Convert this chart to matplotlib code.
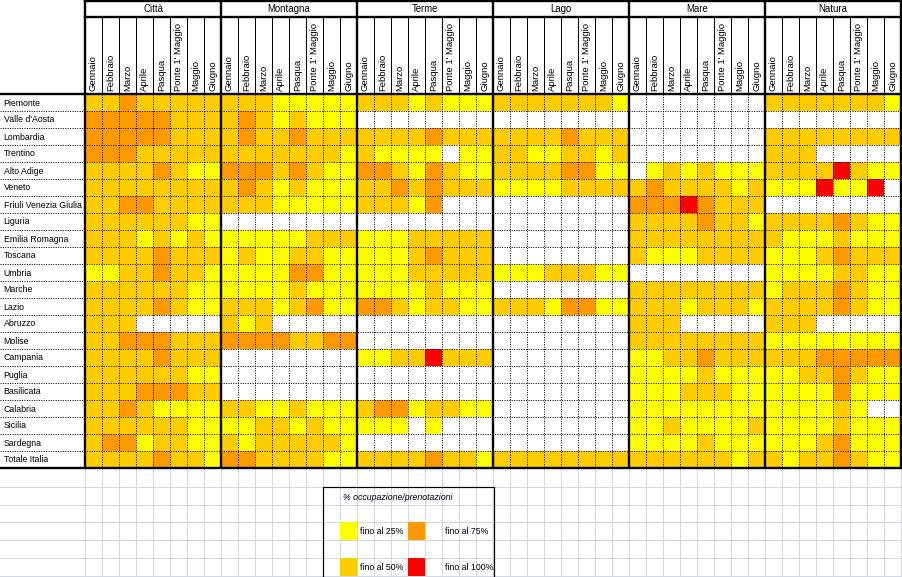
import matplotlib
matplotlib.use("Agg")
import matplotlib.pyplot as plt
import numpy as np
from matplotlib.colors import ListedColormap, BoundaryNorm
from matplotlib.patches import Rectangle

plt.rcParams['font.family'] = ['Liberation Sans', 'DejaVu Sans']

regions = ["Piemonte", "Valle d'Aosta", "Lombardia", "Trentino", "Alto Adige", "Veneto",
           "Friuli Venezia Giulia", "Liguria", "Emilia Romagna", "Toscana", "Umbria",
           "Marche", "Lazio", "Abruzzo", "Molise", "Campania", "Puglia", "Basilicata",
           "Calabria", "Sicilia", "Sardegna", "Totale Italia"]
groups = ["Città", "Montagna", "Terme", "Lago", "Mare", "Natura"]
months = ["Gennaio", "Febbraio", "Marzo", "Aprile", "Pasqua", "Ponte 1' Maggio", "Maggio", "Giugno"]

# 0 = nessun dato, 1 = fino al 25%, 2 = fino al 50%, 3 = fino al 75%, 4 = fino al 100%
citta = [
    [2, 2, 3, 2, 2, 2, 2, 2],
    [3, 3, 3, 3, 3, 2, 2, 2],
    [3, 3, 3, 3, 3, 2, 2, 2],
    [3, 3, 3, 2, 2, 2, 2, 2],
    [2, 2, 2, 2, 3, 2, 1, 1],
    [2, 2, 2, 2, 2, 2, 2, 2],
    [2, 2, 3, 3, 2, 2, 2, 2],
    [2, 2, 2, 2, 2, 2, 1, 1],
    [2, 2, 2, 1, 2, 1, 2, 1],
    [2, 2, 2, 2, 3, 2, 2, 2],
    [1, 1, 2, 2, 3, 2, 2, 1],
    [2, 2, 2, 2, 2, 2, 1, 1],
    [2, 2, 2, 2, 3, 2, 1, 1],
    [2, 2, 2, 0, 0, 0, 0, 0],
    [2, 2, 3, 3, 3, 2, 2, 2],
    [2, 2, 2, 2, 3, 2, 2, 2],
    [2, 2, 2, 2, 2, 2, 1, 1],
    [2, 2, 2, 3, 3, 3, 2, 2],
    [2, 2, 3, 2, 1, 1, 1, 1],
    [2, 2, 2, 2, 2, 2, 1, 1],
    [2, 3, 3, 1, 2, 2, 1, 1],
    [2, 2, 2, 2, 3, 2, 2, 1],
]
montagna = [
    [2, 2, 2, 1, 1, 1, 1, 1],
    [2, 3, 2, 1, 2, 1, 1, 1],
    [2, 3, 2, 2, 3, 2, 2, 2],
    [2, 2, 2, 2, 2, 2, 2, 1],
    [3, 3, 3, 2, 3, 2, 1, 1],
    [2, 3, 2, 1, 2, 1, 1, 1],
    [2, 2, 2, 1, 1, 1, 1, 1],
    [0, 0, 0, 0, 0, 0, 0, 0],
    [1, 1, 1, 1, 1, 2, 2, 2],
    [1, 2, 1, 1, 2, 2, 1, 1],
    [1, 1, 1, 1, 3, 3, 1, 1],
    [1, 1, 1, 1, 2, 1, 1, 1],
    [2, 2, 2, 1, 2, 3, 1, 1],
    [2, 1, 2, 0, 0, 0, 0, 0],
    [3, 3, 3, 3, 2, 2, 3, 3],
    [0, 0, 0, 0, 0, 0, 0, 0],
    [0, 0, 0, 0, 0, 0, 0, 0],
    [0, 0, 0, 0, 0, 0, 0, 0],
    [2, 2, 1, 1, 2, 1, 1, 1],
    [1, 1, 2, 2, 1, 2, 1, 1],
    [2, 1, 2, 2, 2, 2, 2, 1],
    [3, 3, 2, 2, 2, 2, 1, 1],
]
terme = [
    [2, 2, 2, 1, 2, 1, 1, 1],
    [0, 0, 0, 0, 0, 0, 0, 0],
    [2, 2, 2, 2, 3, 2, 2, 2],
    [2, 1, 1, 1, 1, 0, 1, 1],
    [3, 3, 2, 1, 3, 2, 1, 1],
    [2, 2, 3, 2, 3, 2, 2, 2],
    [2, 2, 2, 1, 3, 0, 0, 0],
    [0, 0, 0, 0, 0, 0, 0, 0],
    [1, 1, 1, 2, 2, 2, 2, 2],
    [1, 1, 1, 2, 3, 2, 2, 2],
    [1, 1, 1, 2, 2, 2, 2, 2],
    [1, 1, 1, 1, 2, 1, 1, 1],
    [3, 3, 2, 1, 2, 2, 1, 1],
    [0, 0, 0, 0, 0, 0, 0, 0],
    [0, 0, 0, 0, 0, 0, 0, 0],
    [1, 1, 2, 2, 4, 2, 2, 2],
    [0, 0, 0, 0, 0, 0, 0, 0],
    [0, 0, 0, 0, 0, 0, 0, 0],
    [2, 3, 3, 1, 2, 2, 1, 1],
    [1, 1, 1, 0, 1, 0, 0, 0],
    [0, 0, 0, 0, 0, 0, 0, 0],
    [2, 2, 2, 2, 3, 2, 2, 1],
]
lago = [
    [2, 2, 2, 2, 2, 2, 2, 1],
    [0, 0, 0, 0, 0, 0, 0, 0],
    [2, 2, 2, 2, 3, 2, 2, 2],
    [2, 2, 1, 1, 2, 2, 1, 2],
    [2, 2, 2, 2, 3, 3, 1, 1],
    [1, 1, 1, 1, 2, 2, 2, 2],
    [0, 0, 0, 0, 0, 0, 0, 0],
    [0, 0, 0, 0, 0, 0, 0, 0],
    [0, 0, 0, 0, 0, 0, 0, 0],
    [0, 0, 0, 0, 0, 0, 0, 0],
    [1, 1, 1, 2, 2, 2, 1, 1],
    [0, 0, 0, 0, 0, 0, 0, 0],
    [2, 2, 2, 1, 3, 3, 1, 1],
    [0, 0, 0, 0, 0, 0, 0, 0],
    [0, 0, 0, 0, 0, 0, 0, 0],
    [0, 0, 0, 0, 0, 0, 0, 0],
    [0, 0, 0, 0, 0, 0, 0, 0],
    [0, 0, 0, 0, 0, 0, 0, 0],
    [0, 0, 0, 0, 0, 0, 0, 0],
    [0, 0, 0, 0, 0, 0, 0, 0],
    [0, 0, 0, 0, 0, 0, 0, 0],
    [2, 2, 2, 2, 2, 2, 2, 2],
]
mare = [
    [0, 0, 0, 0, 0, 0, 0, 0],
    [0, 0, 0, 0, 0, 0, 0, 0],
    [0, 0, 0, 0, 0, 0, 0, 0],
    [0, 0, 0, 0, 0, 0, 0, 0],
    [0, 1, 2, 1, 2, 1, 1, 1],
    [2, 3, 2, 2, 2, 2, 1, 2],
    [3, 3, 3, 4, 3, 2, 2, 2],
    [2, 2, 2, 2, 3, 2, 2, 1],
    [2, 2, 2, 2, 2, 2, 2, 2],
    [2, 1, 1, 1, 2, 2, 2, 2],
    [0, 0, 0, 0, 0, 0, 0, 0],
    [2, 2, 2, 2, 2, 2, 2, 2],
    [2, 2, 2, 1, 2, 2, 2, 1],
    [2, 2, 2, 0, 0, 0, 0, 0],
    [2, 2, 2, 2, 2, 2, 2, 2],
    [1, 1, 2, 2, 3, 2, 2, 2],
    [1, 1, 1, 1, 2, 1, 1, 1],
    [1, 1, 1, 2, 2, 2, 1, 1],
    [1, 1, 1, 1, 1, 1, 1, 1],
    [1, 1, 2, 1, 1, 1, 1, 2],
    [1, 1, 1, 1, 2, 1, 1, 1],
    [2, 2, 2, 2, 2, 2, 1, 2],
]
natura = [
    [2, 2, 2, 2, 2, 2, 2, 1],
    [0, 0, 0, 0, 0, 0, 0, 0],
    [2, 2, 2, 2, 2, 2, 2, 2],
    [2, 2, 2, 0, 0, 0, 0, 0],
    [2, 2, 2, 2, 4, 2, 1, 1],
    [1, 1, 1, 4, 1, 1, 4, 0],
    [0, 0, 0, 0, 0, 0, 0, 0],
    [2, 2, 2, 2, 3, 2, 1, 1],
    [2, 1, 1, 1, 2, 1, 1, 1],
    [1, 1, 1, 2, 3, 2, 2, 2],
    [1, 1, 1, 1, 2, 2, 1, 1],
    [1, 2, 2, 2, 3, 2, 1, 1],
    [2, 2, 2, 2, 3, 2, 1, 1],
    [2, 2, 2, 0, 0, 0, 0, 0],
    [1, 1, 1, 1, 1, 1, 1, 1],
    [2, 2, 2, 3, 3, 3, 3, 3],
    [1, 1, 2, 2, 3, 2, 1, 1],
    [1, 1, 1, 1, 3, 1, 1, 1],
    [1, 1, 1, 1, 2, 1, 0, 0],
    [1, 1, 1, 1, 2, 1, 1, 1],
    [1, 1, 1, 2, 3, 1, 1, 1],
    [2, 1, 2, 2, 3, 2, 1, 1],
]
legend_title = "% occupazione/prenotazioni"
legend_labels = ["fino al 25%", "fino al 50%", "fino al 75%", "fino al 100%"]

colors = ["#FFFFFF", "#FFFF00", "#FFCC00", "#FF9900", "#FF0000"]
cmap = ListedColormap(colors)
norm = BoundaryNorm(np.arange(-0.5, 5.5, 1), cmap.N)

# ---- layout (pixel coordinates) ----
W, H = 902, 577
X0, CW = 85, 17
Y0, RH = 94, 17
YH1 = 17
ncol = len(groups) * len(months)
nrow = len(regions)
XR = X0 + ncol * CW
YB = Y0 + nrow * RH
GRID = "#D0D7E5"
PX = 0.72
FS = 6.3

fig = plt.figure(figsize=(W / 100, H / 100), dpi=100)
ax = fig.add_axes([0, 0, 1, 1])
ax.set_xlim(0, W)
ax.set_ylim(H, 0)
ax.axis("off")

# background spreadsheet grid below the table
for y in [487, 505, 522, 540, 558, 576]:
    ax.plot([0, W], [y, y], color=GRID, lw=PX, zorder=0)
for k in range(ncol + 1):
    x = X0 + k * CW
    ax.plot([x, x], [YB, H], color=GRID, lw=PX, zorder=0)

# cells
data = np.hstack([np.array(g) for g in [citta, montagna, terme, lago, mare, natura]])
xe = X0 + np.arange(ncol + 1) * CW
ye = Y0 + np.arange(nrow + 1) * RH
ax.pcolormesh(xe, ye, data, cmap=cmap, norm=norm, zorder=1)

# dotted cell borders
dot = (0, (1, 1.4))
for i in range(1, nrow):
    y = Y0 + i * RH
    ax.plot([0, XR], [y, y], color="black", lw=PX, ls=dot, zorder=2)
for k in range(1, ncol):
    if k % len(months) == 0:
        continue
    x = X0 + k * CW
    ax.plot([x, x], [Y0, YB], color="black", lw=PX, ls=dot, zorder=2)
    ax.plot([x, x], [YH1, Y0], color="black", lw=PX, zorder=2)

# thick borders
TL = 1.7
for g in range(len(groups) + 1):
    x = X0 + g * len(months) * CW
    ax.plot([x, x], [0, YB], color="black", lw=TL, zorder=3, solid_capstyle="butt")
ax.plot([X0, XR], [0.7, 0.7], color="black", lw=TL, zorder=3)
ax.plot([X0, XR], [YH1, YH1], color="black", lw=TL, zorder=3)
ax.plot([0, XR], [Y0, Y0], color="black", lw=TL, zorder=3)
ax.plot([0, XR], [YB, YB], color="black", lw=TL, zorder=3)

# header texts
for g, name in enumerate(groups):
    xc = X0 + (g + 0.5) * len(months) * CW
    ax.text(xc, YH1 / 2 + 0.5, name, ha="center", va="center", fontsize=FS + 0.6, zorder=4)
    for m, mn in enumerate(months):
        xm = X0 + (g * len(months) + m + 0.5) * CW
        ax.text(xm, Y0 - 3, mn, rotation=90, ha="center", va="bottom",
                fontsize=FS + 0.5, zorder=4)

# region labels
for i, r in enumerate(regions):
    ax.text(3.5, Y0 + (i + 0.5) * RH + 0.5, r, ha="left", va="center", fontsize=FS, zorder=4)

# legend box
ax.add_patch(Rectangle((323, 487), 171, 100, fill=False, edgecolor="black", lw=PX * 1.2, zorder=4))
ax.text(343, 497, legend_title, ha="left", va="center", fontsize=FS, style="italic", zorder=5)
sw = [(340, 522, 1), (340, 558, 2), (408, 522, 3), (408, 558, 4)]
tx = [360, 360, 445, 445]
for (sx, sy, code), lab, t in zip(sw, legend_labels, tx):
    ax.add_patch(Rectangle((sx, sy), CW, 18, facecolor=cmap(norm(code)), edgecolor="none", zorder=5))
    ax.text(t, sy + 10, lab, ha="left", va="center", fontsize=FS, zorder=5)

fig.savefig("out.png", dpi=100)
